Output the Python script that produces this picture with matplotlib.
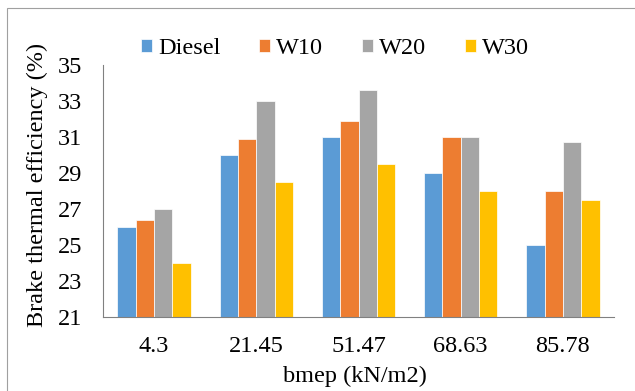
import matplotlib
matplotlib.use("Agg")
import matplotlib.pyplot as plt
import numpy as np
from matplotlib.patches import Rectangle

plt.rcParams['font.family'] = ['Liberation Serif', 'DejaVu Serif']

# bmep categories and brake thermal efficiency (%)
bmep = ['4.3', '21.45', '51.47', '68.63', '85.78']
diesel = [26.0, 30.0, 31.0, 29.0, 25.0]
w10 = [26.4, 30.9, 31.9, 31.0, 28.0]
w20 = [27.0, 33.0, 33.6, 31.0, 30.7]
w30 = [24.0, 28.5, 29.5, 28.0, 27.5]

series = [('Diesel', diesel, '#5b9bd5'),
          ('W10', w10, '#ed7d31'),
          ('W20', w20, '#a5a5a5'),
          ('W30', w30, '#ffc000')]

fs = 17.5
fig = plt.figure(figsize=(6.35, 3.91), dpi=100)
ax = fig.add_axes([103/635, 1 - 317/391, 511/635, (317 - 65)/391])

x = np.arange(len(bmep))
w = 0.18
for i, (name, vals, col) in enumerate(series):
    ax.bar(x + (i - 1.5) * w, np.array(vals) - 21, bottom=21, width=w,
           color=col, label=name, edgecolor='white', linewidth=0.5)

ax.set_ylim(21, 35)
ax.set_xlim(-0.5, len(bmep) - 0.5)
ax.set_yticks(range(21, 36, 2))
ax.set_xticks(x)
ax.set_xticklabels(bmep)
ax.tick_params(axis='both', length=0, labelsize=fs, colors='black')
ax.tick_params(axis='x', pad=14)
ax.tick_params(axis='y', pad=15)
for s in ['top', 'right']:
    ax.spines[s].set_visible(False)
for s in ['left', 'bottom']:
    ax.spines[s].set_color('#808080')
    ax.spines[s].set_linewidth(0.8)

fig.text(355/635, 1 - 376/391, 'bmep (kN/m2)', ha='center', va='center',
         fontsize=fs)
fig.text(37/635, 1 - 185/391, 'Brake thermal efficiency (%)', rotation=90,
         ha='center', va='center', fontsize=fs)

fig.legend(loc='center left', bbox_to_anchor=(141/635, 1 - 49/391), ncol=4,
           frameon=False, fontsize=fs, handlelength=0.45, handleheight=0.45,
           handletextpad=0.25, columnspacing=1.6, borderaxespad=0,
           borderpad=0)

fig.patches.append(Rectangle((7/635, -0.05), 0.99, 1 - 8/391 + 0.05,
                             transform=fig.transFigure, fill=False,
                             edgecolor='#a0a0a0', linewidth=0.8))

fig.savefig('out.png', dpi=100)
